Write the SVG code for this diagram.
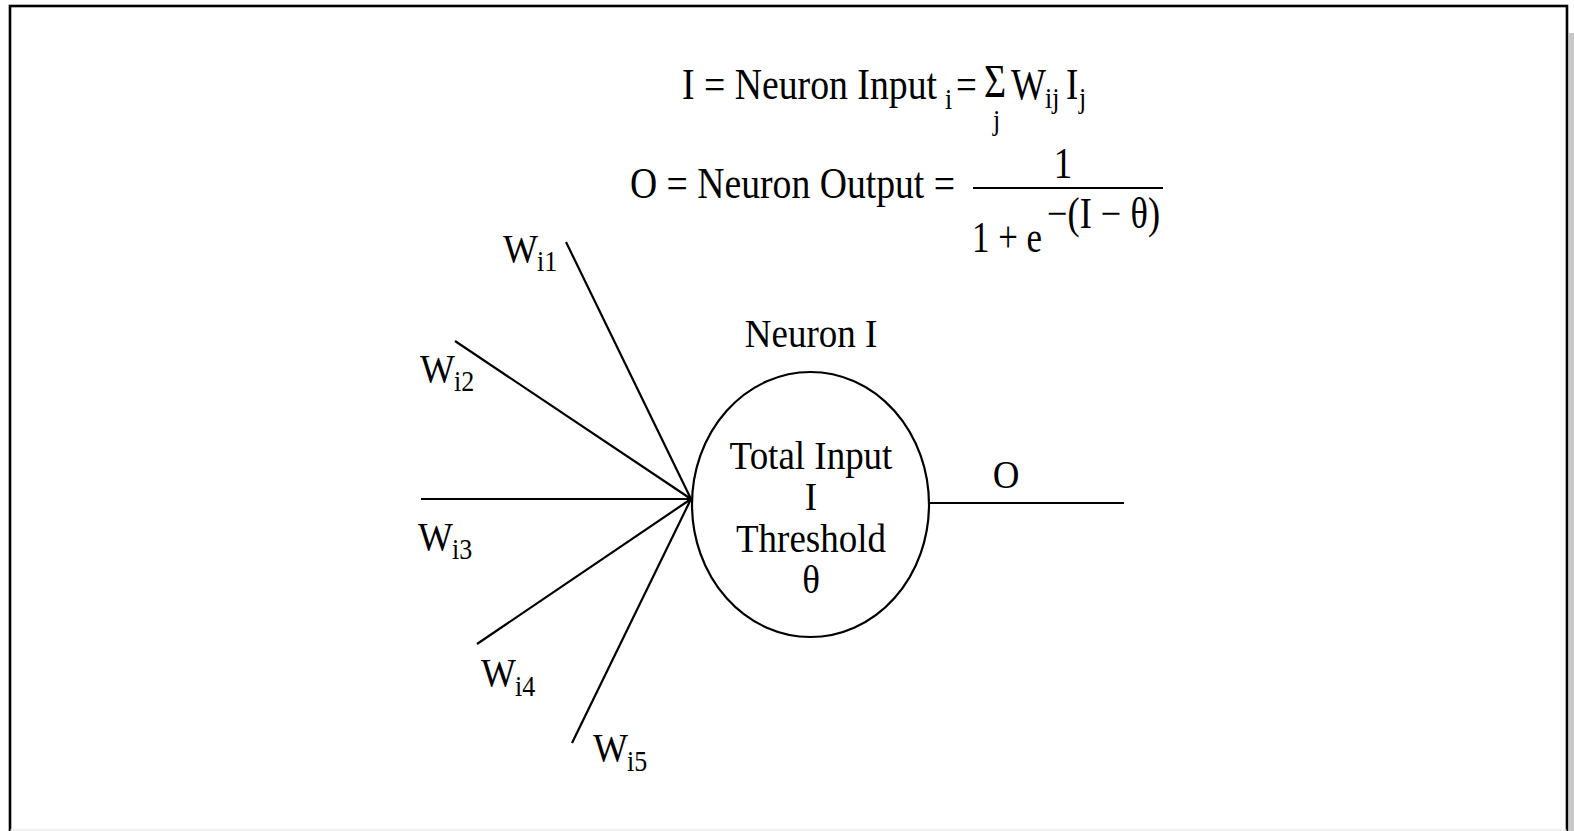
<svg xmlns="http://www.w3.org/2000/svg" width="1574" height="831" viewBox="0 0 1574 831">
<style>
.t{font-family:"Liberation Serif","Times New Roman",serif;fill:#000}
.m{font-size:37px}
.s{font-size:26px}
.g{font-size:38px}
.ln{stroke:#000;stroke-width:2.2;fill:none}
</style>
<rect width="1574" height="831" fill="#fff"/>
<rect x="1569" y="33" width="5" height="798" fill="#c8c8c8"/>
<rect x="10" y="6" width="1557" height="840" fill="none" stroke="#000" stroke-width="2.6"/>
<line x1="10" y1="830" x2="1567" y2="830" stroke="#e4e4e4" stroke-width="1"/>

<g id="formula-input">
<text class="t m" transform="translate(682 99) scale(1 1.18)" textLength="255" lengthAdjust="spacingAndGlyphs">I = Neuron Input</text>
<text class="t s" transform="translate(945 109) scale(1 1.15)">i</text>
<text class="t m" transform="translate(956 99) scale(1 1.18)">=</text>
<text class="t g" transform="translate(984 97) scale(1 1.2)">Σ</text>
<text class="t s" transform="translate(993 130) scale(1 1.1)">j</text>
<text class="t m" transform="translate(1011 99) scale(1 1.18)">W</text>
<text class="t s" transform="translate(1045 108) scale(1 1.15)">ij</text>
<text class="t m" transform="translate(1066 99) scale(1 1.18)">I</text>
<text class="t s" transform="translate(1079 108) scale(1 1.15)">j</text>
</g>

<g id="formula-output">
<text class="t m" transform="translate(630 198) scale(1 1.18)" textLength="325" lengthAdjust="spacingAndGlyphs">O = Neuron Output =</text>
<text class="t m" transform="translate(1063 178) scale(1 1.18)" text-anchor="middle">1</text>
<line class="ln" x1="973" y1="188" x2="1163" y2="188"/>
<text class="t m" transform="translate(972 252) scale(1 1.18)" textLength="70" lengthAdjust="spacingAndGlyphs">1 + e</text>
<text class="t m" transform="translate(1047 228) scale(1 1.18)" textLength="113" lengthAdjust="spacingAndGlyphs">−(I − θ)</text>
</g>

<g id="connectors">
<line class="ln" x1="566" y1="242" x2="691" y2="499"/>
<line class="ln" x1="455" y1="341" x2="691" y2="499"/>
<line class="ln" x1="421" y1="499" x2="691" y2="499"/>
<line class="ln" x1="477" y1="644" x2="691" y2="499"/>
<line class="ln" x1="572" y1="743" x2="691" y2="499"/>
<line class="ln" x1="929" y1="503" x2="1124" y2="503"/>
</g>

<g id="w1"><text class="t m" transform="translate(503 262) scale(1 1.1)">W</text><text class="t s" transform="translate(537 271) scale(1 1.1)">i1</text></g>
<g id="w2"><text class="t m" transform="translate(420 382) scale(1 1.1)">W</text><text class="t s" transform="translate(454 391) scale(1 1.1)">i2</text></g>
<g id="w3"><text class="t m" transform="translate(418 550) scale(1 1.1)">W</text><text class="t s" transform="translate(452 559) scale(1 1.1)">i3</text></g>
<g id="w4"><text class="t m" transform="translate(481 686) scale(1 1.1)">W</text><text class="t s" transform="translate(515 696) scale(1 1.1)">i4</text></g>
<g id="w5"><text class="t m" transform="translate(593 761) scale(1 1.1)">W</text><text class="t s" transform="translate(627 771) scale(1 1.1)">i5</text></g>

<g id="neuron">
<text class="t m" transform="translate(811 347) scale(1 1.1)" text-anchor="middle">Neuron I</text>
<ellipse class="ln" cx="810.5" cy="504.5" rx="118.5" ry="132.5"/>
<text class="t m" transform="translate(811 469) scale(1 1.1)" text-anchor="middle">Total Input</text>
<text class="t m" transform="translate(811 510) scale(1 1.1)" text-anchor="middle">I</text>
<text class="t m" transform="translate(811 552) scale(1 1.1)" text-anchor="middle">Threshold</text>
<text class="t m" transform="translate(811 593) scale(1 1.1)" text-anchor="middle">θ</text>
</g>

<g id="output-label"><text class="t m" transform="translate(1006 488) scale(1 1.1)" text-anchor="middle">O</text></g>
</svg>
